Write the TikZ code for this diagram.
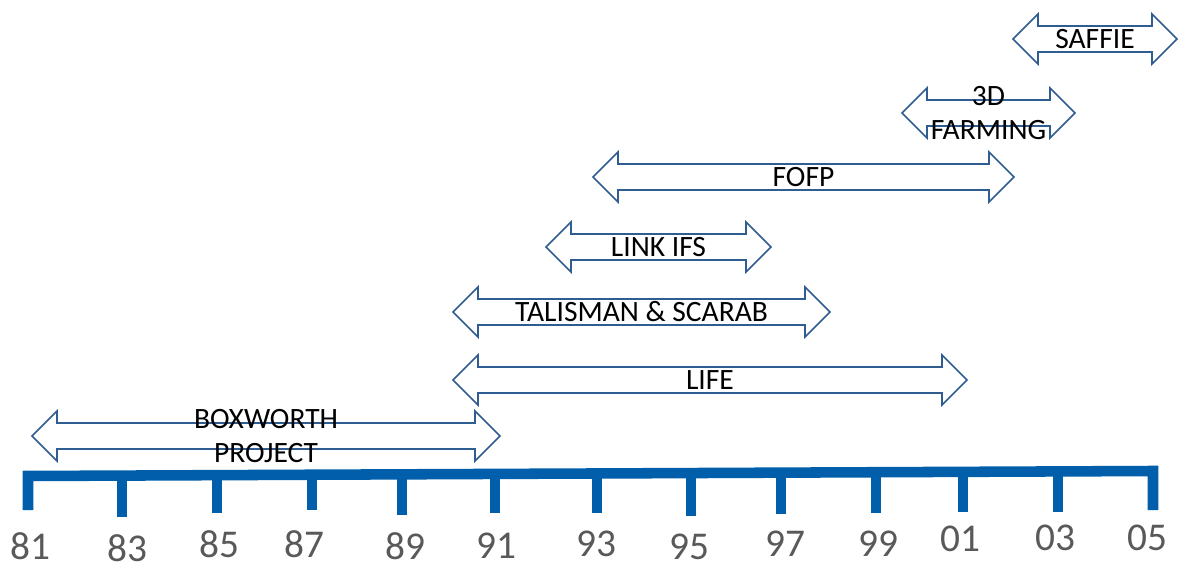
\documentclass[tikz,border=0pt]{standalone}
\usepackage{fontspec}
\setmainfont{Carlito}
\usepackage{tikz}
\usetikzlibrary{calc}

\definecolor{barblue}{RGB}{0,94,170}
\definecolor{edgeblue}{RGB}{47,93,145}
\definecolor{yeargray}{RGB}{89,89,89}

\tikzset{
	spanline/.style={draw=edgeblue, line width=0.9pt, fill=white, line join=miter},
	spantext/.style={align=center, inner sep=0pt, font=\fontsize{16.8}{19.8}\selectfont, text=black},
	axisline/.style={draw=barblue, line width=6pt, line join=miter},
	tickline/.style={draw=barblue, line width=5.6pt},
	yearlabel/.style={inner sep=0pt, font=\fontsize{22.4}{26}\selectfont, text=yeargray},
}

% left tip, right tip, middle, name, text
\newcommand{\spanarrow}[5]{%
	\draw[spanline] (#1,#3) -- (#1+25,#3-25) -- (#1+25,#3-13) -- (#2-25,#3-13)
		-- (#2-25,#3-25) -- (#2,#3) -- (#2-25,#3+25) -- (#2-25,#3+13)
		-- (#1+25,#3+13) -- (#1+25,#3+25) -- cycle;
	\node[spantext] (#4) at ({(#1+#2)/2},#3) {#5};
}

\begin{document}
\begin{tikzpicture}[x=0.02cm, y=-0.02cm]
			\useasboundingbox (0,0) rectangle (1179,563);
			% time line
			\draw[axisline] (28,510) -- (28,476) -- (1153,471) -- (1153,510);
			\foreach \x/\b/\lx/\ly/\t in {122/517/127/548/83, 217/513/219/544/85, 312/510/304/544/87,
				402/515/405/546/89, 495/513/496/546/91, 597/513/596/544/93, 691/516/689/547/95,
				781/514/785/544/97, 876/513/878/544/99, 963/512/960/539/01, 1058/512/1055/538/03}
			{
				\draw[tickline] (\x,473) -- (\x,\b);
				\node[yearlabel] (y\t) at (\lx,\ly) {\t};
			}
			\node[yearlabel] (y81) at (30,546) {81};
			\node[yearlabel] (y05) at (1147,538) {05};
			% projects
			\spanarrow{32}{500}{436}{boxworth}{BOXWORTH\\PROJECT}
			\spanarrow{453}{967}{380}{life}{LIFE}
			\spanarrow{453}{830}{312}{talisman}{TALISMAN \& SCARAB}
			\spanarrow{546}{771}{247}{linkifs}{LINK IFS}
			\spanarrow{593}{1014}{177}{fofp}{FOFP}
			\spanarrow{902}{1075}{113}{farming}{3D\\FARMING}
			\spanarrow{1013}{1177}{39}{saffie}{SAFFIE}
		\end{tikzpicture}
\end{document}
